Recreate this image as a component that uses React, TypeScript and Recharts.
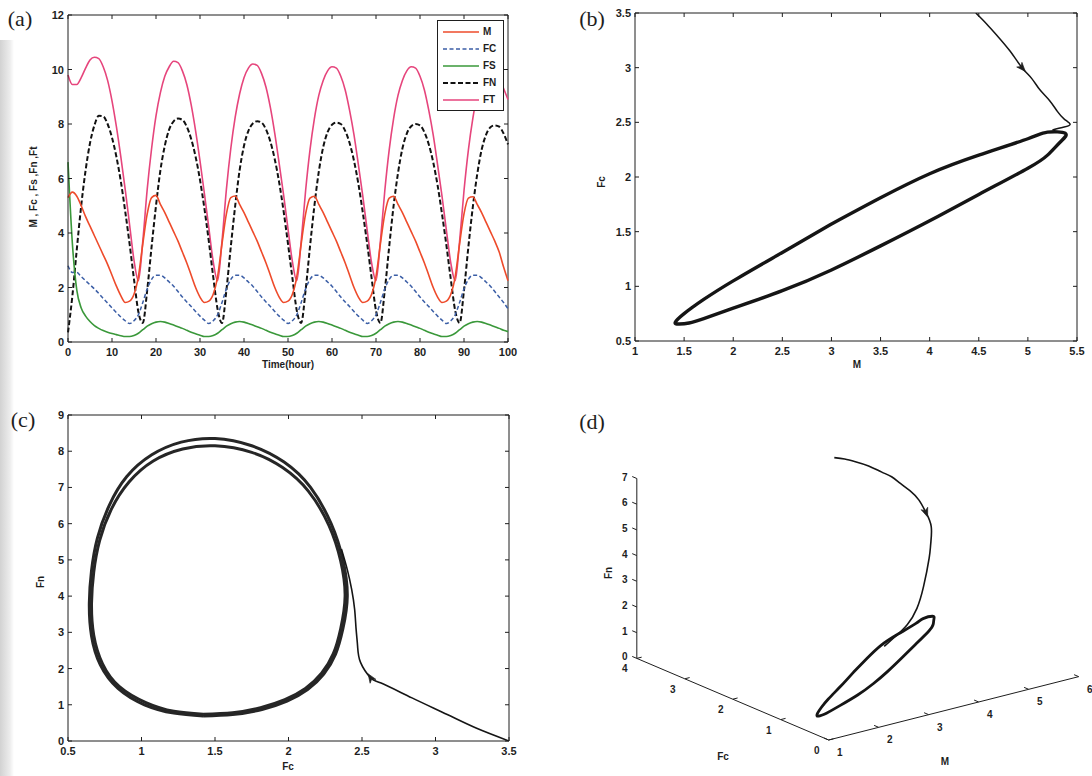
import React from 'react';
import { ComposedChart, Line, XAxis, YAxis, ReferenceLine, Legend } from 'recharts';

// ---------- (a) time series, one reading per hour (t = 0..100) ----------
const timeHours = Array.from({ length: 101 }, (_, i) => i);

const mSeries = [
  5.3, 5.5, 5.35, 5.0, 4.6, 4.25, 3.9, 3.55, 3.2, 2.85, 2.45, 2.05, 1.7,
  1.45, 1.5, 1.75, 2.4, 3.6, 4.7, 5.3, 5.38, 5.05, 4.75, 4.4, 4.05, 3.7, 3.3, 2.9, 2.45, 2.0, 1.65,
  1.45, 1.5, 1.75, 2.4, 3.6, 4.7, 5.3, 5.36, 5.05, 4.75, 4.4, 4.05, 3.7, 3.3, 2.9, 2.45, 2.0, 1.65,
  1.45, 1.5, 1.75, 2.4, 3.6, 4.7, 5.28, 5.35, 5.05, 4.75, 4.4, 4.05, 3.7, 3.3, 2.9, 2.45, 2.0, 1.65,
  1.45, 1.5, 1.75, 2.4, 3.6, 4.7, 5.28, 5.35, 5.05, 4.75, 4.4, 4.05, 3.7, 3.3, 2.9, 2.45, 2.0, 1.65,
  1.45, 1.5, 1.75, 2.4, 3.6, 4.7, 5.28, 5.33, 5.05, 4.75, 4.4, 4.05, 3.7, 3.3, 2.75, 2.25,
];
const fcSeries = [
  2.8, 2.55, 2.55, 2.4, 2.25, 2.1, 1.95, 1.78, 1.6, 1.43, 1.25, 1.08, 0.92, 0.78,
  0.68, 0.78, 1.0, 1.45, 1.95, 2.3, 2.45, 2.45, 2.35, 2.2, 2.05, 1.85, 1.65, 1.47, 1.3, 1.12, 0.95, 0.8,
  0.68, 0.78, 1.0, 1.45, 1.95, 2.3, 2.45, 2.45, 2.35, 2.2, 2.05, 1.85, 1.65, 1.47, 1.3, 1.12, 0.95, 0.8,
  0.68, 0.78, 1.0, 1.45, 1.95, 2.3, 2.45, 2.45, 2.35, 2.2, 2.05, 1.85, 1.65, 1.47, 1.3, 1.12, 0.95, 0.8,
  0.68, 0.78, 1.0, 1.45, 1.95, 2.3, 2.45, 2.45, 2.35, 2.2, 2.05, 1.85, 1.65, 1.47, 1.3, 1.12, 0.95, 0.8,
  0.68, 0.78, 1.0, 1.45, 1.95, 2.3, 2.45, 2.45, 2.35, 2.2, 2.05, 1.85, 1.65, 1.45, 1.22,
];
const fsSeries = [
  6.6, 3.6, 1.9, 1.25, 0.95, 0.75, 0.6, 0.5, 0.42, 0.36, 0.31, 0.27, 0.23,
  0.2, 0.2, 0.24, 0.32, 0.45, 0.58, 0.67, 0.73, 0.75, 0.73, 0.68, 0.62, 0.56, 0.5, 0.43, 0.36, 0.3, 0.25,
  0.2, 0.2, 0.24, 0.32, 0.45, 0.58, 0.67, 0.73, 0.75, 0.73, 0.68, 0.62, 0.56, 0.5, 0.43, 0.36, 0.3, 0.25,
  0.2, 0.2, 0.24, 0.32, 0.45, 0.58, 0.67, 0.73, 0.75, 0.73, 0.68, 0.62, 0.56, 0.5, 0.43, 0.36, 0.3, 0.25,
  0.2, 0.2, 0.24, 0.32, 0.45, 0.58, 0.67, 0.73, 0.75, 0.73, 0.68, 0.62, 0.56, 0.5, 0.43, 0.36, 0.3, 0.25,
  0.2, 0.2, 0.24, 0.32, 0.45, 0.58, 0.67, 0.73, 0.75, 0.73, 0.68, 0.62, 0.56, 0.5, 0.43, 0.38,
];
const fnSeries = [
  0.35, 1.7, 3.4, 5.0, 6.3, 7.3, 7.95, 8.3, 8.28, 8.0, 7.5, 6.8, 5.9, 4.8, 3.6, 2.3, 1.1,
  0.7, 1.9, 3.5, 5.0, 6.3, 7.2, 7.8, 8.1, 8.2, 8.15, 7.9, 7.45, 6.8, 5.95, 4.9, 3.7, 2.4, 1.2,
  0.7, 1.9, 3.5, 5.0, 6.3, 7.2, 7.75, 8.02, 8.1, 8.05, 7.8, 7.35, 6.7, 5.85, 4.8, 3.6, 2.35, 1.15,
  0.7, 1.9, 3.5, 5.0, 6.25, 7.15, 7.7, 7.97, 8.05, 8.0, 7.75, 7.3, 6.65, 5.8, 4.75, 3.6, 2.35, 1.15,
  0.7, 1.9, 3.5, 5.0, 6.2, 7.1, 7.65, 7.92, 8.0, 7.95, 7.7, 7.25, 6.6, 5.75, 4.7, 3.55, 2.3, 1.15,
  0.7, 1.9, 3.5, 4.95, 6.15, 7.05, 7.6, 7.88, 7.95, 7.9, 7.65, 7.25,
];
const ftSeries = [
  9.8, 9.45, 9.45, 9.7, 10.05, 10.35, 10.45, 10.4, 10.1, 9.6, 8.85, 7.9, 6.8, 5.6, 4.3, 3.0,
  2.25, 3.7, 5.6, 7.1, 8.3, 9.15, 9.75, 10.1, 10.3, 10.25, 9.95, 9.45, 8.7, 7.75, 6.65, 5.45, 4.2, 2.95,
  2.25, 3.7, 5.6, 7.1, 8.25, 9.1, 9.7, 10.05, 10.2, 10.15, 9.85, 9.35, 8.6, 7.65, 6.55, 5.4, 4.15, 2.95,
  2.25, 3.7, 5.55, 7.05, 8.2, 9.05, 9.6, 9.95, 10.1, 10.05, 9.75, 9.25, 8.5, 7.6, 6.5, 5.35, 4.1, 2.9,
  2.25, 3.7, 5.55, 7.05, 8.2, 9.05, 9.6, 9.95, 10.1, 10.05, 9.75, 9.25, 8.5, 7.6, 6.5, 5.35, 4.1, 2.9,
  2.25, 3.7, 5.55, 7.05, 8.2, 9.05, 9.6, 9.95, 10.05, 10.0, 9.7, 9.3, 8.9,
];
const timeTicks = [0, 10, 20, 30, 40, 50, 60, 70, 80, 90, 100];
const concTicks = [0, 2, 4, 6, 8, 10, 12];

// ---------- (b) M vs Fc ----------
const bApproachM = [4.47, 4.58, 4.69, 4.82, 4.94, 5.04, 5.12, 5.22, 5.3, 5.37, 5.43, 5.36, 5.25];
const bApproachFc = [3.5, 3.4, 3.29, 3.15, 3.0, 2.9, 2.8, 2.7, 2.6, 2.53, 2.48, 2.455, 2.43];
const bCycleM = [3.0, 2.5, 2.0, 1.7, 1.5, 1.41, 1.45, 1.55, 1.7, 2.0, 2.5, 3.0, 3.5, 4.0, 4.5, 5.0, 5.2, 5.33, 5.38, 5.2, 5.0, 4.5, 4.0, 3.5, 3.0];
const bCycleFc = [1.57, 1.31, 1.05, 0.88, 0.75, 0.67, 0.655, 0.665, 0.705, 0.8, 0.96, 1.15, 1.37, 1.6, 1.84, 2.08, 2.2, 2.32, 2.4, 2.41, 2.35, 2.2, 2.03, 1.81, 1.57];
const bMTicks = [1, 1.5, 2, 2.5, 3, 3.5, 4, 4.5, 5, 5.5];
const bFcTicks = [0.5, 1, 1.5, 2, 2.5, 3, 3.5];

// ---------- (c) Fc vs Fn ----------
const cApproachFc = [3.5, 3.28, 3.08, 2.84, 2.63, 2.56, 2.49, 2.47, 2.46, 2.45, 2.43, 2.4, 2.36];
const cApproachFn = [0, 0.35, 0.73, 1.19, 1.6, 1.74, 2.17, 2.62, 3.08, 3.63, 4.18, 4.73, 5.3];
const cOuterFc = [1.42, 1.62, 1.82, 1.99, 2.13, 2.24, 2.32, 2.37, 2.4, 2.37, 2.29, 2.15, 1.97, 1.75, 1.5, 1.27, 1.07, 0.9, 0.78, 0.7, 0.66, 0.645, 0.66, 0.72, 0.84, 1.02, 1.22, 1.42];
const cOuterFn = [0.69, 0.73, 0.87, 1.1, 1.42, 1.85, 2.4, 3.1, 4.0, 5.0, 6.0, 7.0, 7.7, 8.15, 8.35, 8.25, 7.9, 7.3, 6.5, 5.6, 4.7, 3.8, 2.9, 2.1, 1.45, 1.0, 0.77, 0.69];
const cInnerFc = [1.42, 1.62, 1.81, 1.975, 2.115, 2.225, 2.305, 2.355, 2.385, 2.355, 2.275, 2.135, 1.96, 1.75, 1.5, 1.28, 1.08, 0.915, 0.795, 0.715, 0.675, 0.66, 0.675, 0.735, 0.85, 1.03, 1.22, 1.42];
const cInnerFn = [0.74, 0.78, 0.92, 1.14, 1.45, 1.87, 2.41, 3.1, 4.0, 4.97, 5.95, 6.9, 7.55, 7.97, 8.15, 8.06, 7.73, 7.15, 6.4, 5.53, 4.66, 3.8, 2.92, 2.13, 1.5, 1.06, 0.82, 0.74];
const cFcTicks = [0.5, 1, 1.5, 2, 2.5, 3, 3.5];
const cFnTicks = [0, 1, 2, 3, 4, 5, 6, 7, 8, 9];

// ---------- (d) 3-D trajectory (M, Fc, Fn) ----------
const dApproachM = [4.47, 4.58, 4.69, 4.82, 4.94, 5.04, 5.12, 5.22, 5.3, 5.37, 5.43, 5.4, 5.35, 5.2, 5.0, 4.7, 4.3, 4.0];
const dApproachFc = [3.5, 3.4, 3.29, 3.15, 3.0, 2.9, 2.8, 2.7, 2.6, 2.53, 2.48, 2.46, 2.44, 2.4, 2.33, 2.22, 2.08, 1.97];
const dApproachFn = [6.5, 6.47, 6.4, 6.28, 6.1, 5.95, 5.73, 5.47, 5.15, 4.7, 4.15, 3.5, 3.0, 2.0, 1.3, 0.9, 0.7, 0.6];
const dCycleM = bCycleM;
const dCycleFc = bCycleFc;
const dCycleFn = [0.4, 0.32, 0.27, 0.23, 0.21, 0.2, 0.2, 0.2, 0.21, 0.22, 0.25, 0.3, 0.36, 0.45, 0.53, 0.62, 0.68, 0.72, 0.75, 0.74, 0.7, 0.65, 0.6, 0.5, 0.4];
const dMTicks = [1, 2, 3, 4, 5, 6];
const dFcTicks = [0, 1, 2, 3, 4];
const dFnTicks = [0, 1, 2, 3, 4, 5, 6, 7];

const SANS = '"Liberation Sans", Arial, sans-serif';
const SERIF = '"Liberation Serif", "Times New Roman", serif';
const INK = '#1e1e1e';

const seriesA = [
  { key: 'FT', name: 'FT', color: '#e6457c', dash: undefined, width: 1.6 },
  { key: 'FN', name: 'FN', color: '#111111', dash: '5 2.5', width: 2 },
  { key: 'FC', name: 'FC', color: '#3b5ea6', dash: '4 2.5', width: 1.5 },
  { key: 'FS', name: 'FS', color: '#3a983a', dash: undefined, width: 1.6 },
  { key: 'M', name: 'M', color: '#ee4b2b', dash: undefined, width: 1.6 },
];
const legendOrder = ['M', 'FC', 'FS', 'FN', 'FT'];

const rowsA = timeHours.map((t, i) => ({
  t,
  M: mSeries[i],
  FC: fcSeries[i],
  FS: fsSeries[i],
  FN: fnSeries[i],
  FT: ftSeries[i],
}));

const pairs = (xs: number[], ys: number[]) => xs.map((x, i) => ({ x, y: ys[i] }));

// matlab-style box ticks: inward marks on both sides, labels outside
const xTick = (top: number, bottom: number) => (p: any) => (
  <g>
    <line x1={p.x} x2={p.x} y1={bottom} y2={bottom - 4} stroke={INK} />
    <line x1={p.x} x2={p.x} y1={top} y2={top + 4} stroke={INK} />
    <text x={p.x} y={bottom + 14} textAnchor="middle" fontSize={11} fontWeight="bold" fontFamily={SANS} fill={INK}>
      {p.payload.value}
    </text>
  </g>
);
const yTick = (left: number, right: number) => (p: any) => (
  <g>
    <line x1={left} x2={left + 4} y1={p.y} y2={p.y} stroke={INK} />
    <line x1={right} x2={right - 4} y1={p.y} y2={p.y} stroke={INK} />
    <text x={left - 4} y={p.y + 4} textAnchor="end" fontSize={11} fontWeight="bold" fontFamily={SANS} fill={INK}>
      {p.payload.value}
    </text>
  </g>
);

// arrowhead on one point of a path, pointing towards the next point
const arrowDot = (idx: number, pts: { x: number; y: number }[], sx: number, sy: number) => (p: any) => {
  if (p.index !== idx) return <g key={`n${p.index}`} />;
  const a = pts[idx];
  const b = pts[idx + 1];
  const ang = (Math.atan2((b.y - a.y) * sy, (b.x - a.x) * sx) * 180) / Math.PI;
  return (
    <path
      key="arrow"
      d="M5,0 L-4,-3.5 L-1.5,0 L-4,3.5 Z"
      transform={`translate(${p.cx},${p.cy}) rotate(${ang})`}
      fill={INK}
      stroke={INK}
      strokeWidth={0.6}
    />
  );
};

const Txt = ({ x, y, children, size = 10, rot = 0, serif = false, bold = true }: any) => (
  <div
    style={{
      position: 'absolute',
      left: x,
      top: y,
      transform: `translate(-50%, -50%) rotate(${rot}deg)`,
      whiteSpace: 'nowrap',
      fontFamily: serif ? SERIF : SANS,
      fontSize: size,
      fontWeight: bold ? 'bold' : 'normal',
      color: INK,
      lineHeight: 1,
    }}
  >
    {children}
  </div>
);

const LegendBox = () => (
  <div
    style={{
      background: '#fff',
      border: `1px solid ${INK}`,
      boxSizing: 'border-box',
      width: 67,
      height: 91,
      padding: '2px 0 0 5px',
    }}
  >
    {legendOrder.map((k) => {
      const s = seriesA.find((d) => d.key === k)!;
      return (
        <div key={k} style={{ display: 'flex', alignItems: 'center', height: 17 }}>
          <svg width={36} height={6}>
            <line x1={0} x2={36} y1={3} y2={3} stroke={s.color} strokeWidth={s.width} strokeDasharray={s.dash} />
          </svg>
          <span style={{ marginLeft: 4, fontFamily: SANS, fontSize: 10, fontWeight: 'bold', color: INK }}>{s.name}</span>
        </div>
      );
    })}
  </div>
);

// ---------- panel (a) ----------
const PanelA = () => (
  <ComposedChart width={540} height={380} data={rowsA} margin={{ top: 15, right: 32, bottom: 8, left: 28 }}>
    <XAxis dataKey="t" type="number" domain={[0, 100]} ticks={timeTicks} interval={0} tickLine={false}
      tick={xTick(15, 342)} height={30} axisLine={{ stroke: INK }} />
    <YAxis type="number" domain={[0, 12]} ticks={concTicks} interval={0} tickLine={false}
      tick={yTick(68, 508)} width={40} axisLine={{ stroke: INK }} />
    <ReferenceLine y={12} stroke={INK} />
    <ReferenceLine x={100} stroke={INK} />
    {seriesA.map((s) => (
      <Line key={s.key} dataKey={s.key} name={s.name} type="monotone" stroke={s.color} strokeWidth={s.width}
        strokeDasharray={s.dash} dot={false} activeDot={false} isAnimationActive={false} />
    ))}
    <Legend layout="vertical" align="center" verticalAlign="middle" content={() => <LegendBox />}
      wrapperStyle={{ left: 437, top: 20, width: 67, height: 91 }} />
  </ComposedChart>
);

// ---------- panel (b) ----------
const bApproach = pairs(bApproachM, bApproachFc);
const bCycle = pairs(bCycleM, bCycleFc);
const PanelB = () => (
  <ComposedChart width={552} height={380} margin={{ top: 13, right: 15, bottom: 9, left: 55 }}>
    <XAxis dataKey="x" type="number" domain={[1, 5.5]} ticks={bMTicks} interval={0} tickLine={false}
      tick={xTick(13, 341)} height={30} axisLine={{ stroke: INK }} allowDataOverflow />
    <YAxis dataKey="y" type="number" domain={[0.5, 3.5]} ticks={bFcTicks} interval={0} tickLine={false}
      tick={yTick(95, 537)} width={40} axisLine={{ stroke: INK }} allowDataOverflow />
    <ReferenceLine y={3.5} stroke={INK} />
    <ReferenceLine x={5.5} stroke={INK} />
    <Line data={bCycle} dataKey="y" type="natural" stroke="#151515" strokeWidth={3.4} dot={false}
      activeDot={false} isAnimationActive={false} />
    <Line data={bApproach} dataKey="y" type="natural" stroke="#151515" strokeWidth={1.5}
      dot={arrowDot(4, bApproach, 442 / 4.5, -328 / 3)} activeDot={false} isAnimationActive={false} />
  </ComposedChart>
);

// ---------- panel (c) ----------
const cApproach = pairs(cApproachFc, cApproachFn);
const cOuter = pairs(cOuterFc, cOuterFn);
const cInner = pairs(cInnerFc, cInnerFn);
const PanelC = () => (
  <ComposedChart width={540} height={376} margin={{ top: 15, right: 31, bottom: 5, left: 28 }}>
    <XAxis dataKey="x" type="number" domain={[0.5, 3.5]} ticks={cFcTicks} interval={0} tickLine={false}
      tick={xTick(15, 341)} height={30} axisLine={{ stroke: INK }} allowDataOverflow />
    <YAxis dataKey="y" type="number" domain={[0, 9]} ticks={cFnTicks} interval={0} tickLine={false}
      tick={yTick(68, 509)} width={40} axisLine={{ stroke: INK }} allowDataOverflow />
    <ReferenceLine y={9} stroke={INK} />
    <ReferenceLine x={3.5} stroke={INK} />
    <Line data={cOuter} dataKey="y" type="natural" stroke="#262626" strokeWidth={3} dot={false}
      activeDot={false} isAnimationActive={false} />
    <Line data={cInner} dataKey="y" type="natural" stroke="#262626" strokeWidth={3} dot={false}
      activeDot={false} isAnimationActive={false} />
    <Line data={cApproach} dataKey="y" type="natural" stroke="#151515" strokeWidth={1.6}
      dot={arrowDot(5, cApproach, 441 / 3, -326 / 9)} activeDot={false} isAnimationActive={false} />
  </ComposedChart>
);

// ---------- panel (d): oblique projection of (M, Fc, Fn) ----------
const D_ORIGIN = { x: 288.7, y: 340 }; // M = 1, Fc = 0, Fn = 0
const D_EM = { x: 50, y: -12.67 };
const D_EFC = { x: -47.97, y: -20.4 };
const D_EFN = { x: 0, y: -25.7 };
const project = (m: number, fc: number, fn: number) => ({
  x: D_ORIGIN.x + (m - 1) * D_EM.x + fc * D_EFC.x + fn * D_EFN.x,
  y: D_ORIGIN.y + (m - 1) * D_EM.y + fc * D_EFC.y + fn * D_EFN.y,
});
const unit = (v: { x: number; y: number }) => {
  const l = Math.hypot(v.x, v.y);
  return { x: v.x / l, y: v.y / l };
};

const dApproach = dApproachM.map((m, i) => project(m, dApproachFc[i], dApproachFn[i]));
const dCycle = dCycleM.map((m, i) => project(m, dCycleFc[i], dCycleFn[i]));
const dAxisM = dMTicks.map((m) => project(m, 0, 0));
const dAxisFc = dFcTicks.map((fc) => project(1, fc, 0));
const dAxisFn = dFnTicks.map((fn) => project(1, 4, fn));

const dTickDot = (values: number[], dir: { x: number; y: number }, lx: number, ly: number, anchor: string) => (p: any) => {
  const u = unit(dir);
  return (
    <g key={`t${p.index}`}>
      <line x1={p.cx} y1={p.cy} x2={p.cx + u.x * 5} y2={p.cy + u.y * 5} stroke={INK} strokeWidth={1} />
      <text x={p.cx + lx} y={p.cy + ly} textAnchor={anchor} fontSize={10} fontWeight="bold" fontFamily={SANS} fill={INK}>
        {values[p.index]}
      </text>
    </g>
  );
};

const PanelD = () => (
  <ComposedChart width={552} height={376} margin={{ top: 0, right: 0, bottom: 0, left: 0 }}>
    <XAxis dataKey="x" type="number" domain={[0, 552]} hide />
    <YAxis dataKey="y" type="number" domain={[0, 376]} reversed hide />
    <Line data={dAxisM} dataKey="y" type="linear" stroke={INK} strokeWidth={1}
      dot={dTickDot(dMTicks, D_EFC, 11, 16, 'middle')} activeDot={false} isAnimationActive={false} />
    <Line data={dAxisFc} dataKey="y" type="linear" stroke={INK} strokeWidth={1}
      dot={dTickDot(dFcTicks, D_EM, -12, 14, 'middle')} activeDot={false} isAnimationActive={false} />
    <Line data={dAxisFn} dataKey="y" type="linear" stroke={INK} strokeWidth={1}
      dot={dTickDot(dFnTicks, D_EFC, -12, 2, 'middle')} activeDot={false} isAnimationActive={false} />
    <Line data={dCycle} dataKey="y" type="natural" stroke="#151515" strokeWidth={2.8} dot={false}
      activeDot={false} isAnimationActive={false} />
    <Line data={dApproach} dataKey="y" type="natural" stroke="#151515" strokeWidth={1.6}
      dot={arrowDot(9, dApproach, 1, 1)} activeDot={false} isAnimationActive={false} />
  </ComposedChart>
);

const App = () => (
  <div style={{ position: 'absolute', left: 0, top: 0, width: 1092, height: 776, background: '#fff', overflow: 'hidden' }}>
    <div style={{ position: 'absolute', left: 0, top: 40, width: 14, height: 736, background: 'linear-gradient(to right, #d2d2d2, #ececec 70%, #ffffff)' }} />
    <div style={{ position: 'absolute', left: 0, top: 0 }}><PanelA /></div>
    <div style={{ position: 'absolute', left: 540, top: 0 }}><PanelB /></div>
    <div style={{ position: 'absolute', left: 0, top: 400 }}><PanelC /></div>
    <div style={{ position: 'absolute', left: 540, top: 400 }}><PanelD /></div>

    <Txt x={20} y={19} size={22} serif bold={false}>(a)</Txt>
    <Txt x={592} y={19} size={22} serif bold={false}>(b)</Txt>
    <Txt x={23} y={420} size={22} serif bold={false}>(c)</Txt>
    <Txt x={592} y={422} size={22} serif bold={false}>(d)</Txt>

    <Txt x={288} y={365}>Time(hour)</Txt>
    <Txt x={34} y={187} rot={-90}>M , Fc , Fs ,Fn ,Ft</Txt>
    <Txt x={857} y={365}>M</Txt>
    <Txt x={602} y={182} rot={-90}>Fc</Txt>
    <Txt x={288} y={767}>Fc</Txt>
    <Txt x={41} y={582} rot={-90}>Fn</Txt>
    <Txt x={609} y={573} rot={-90}>Fn</Txt>
    <Txt x={723} y={757}>Fc</Txt>
    <Txt x={945} y={762}>M</Txt>
  </div>
);

export default App;
